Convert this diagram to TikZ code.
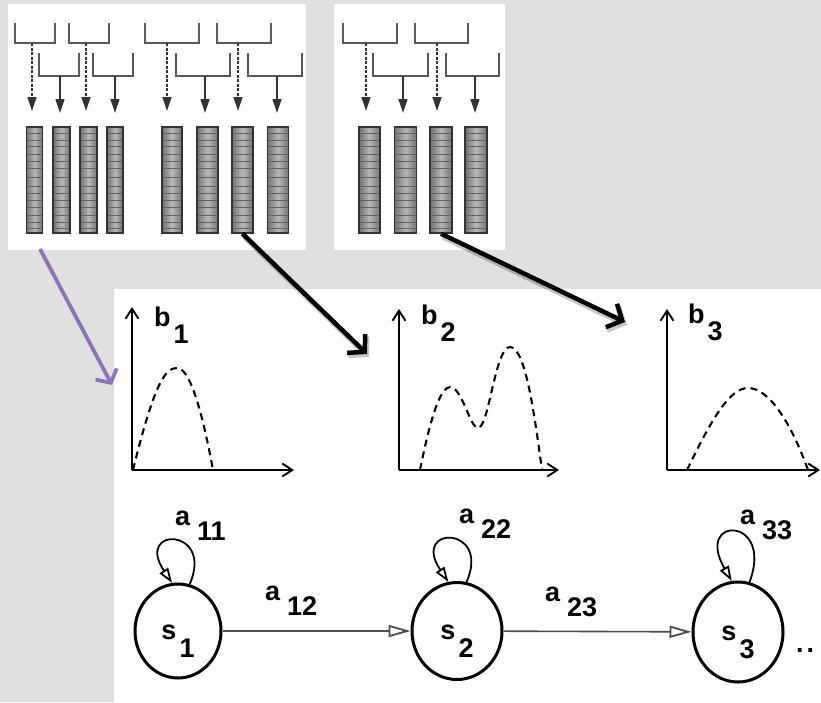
\documentclass[tikz,border=0pt]{standalone}
\usepackage{fontspec}
\setmainfont{Liberation Sans}
\usetikzlibrary{arrows.meta,shapes.geometric}
\definecolor{bggray}{RGB}{224,224,224}
\definecolor{purp}{RGB}{140,116,186}
\newcommand{\sbl}[4]{#1\kern#2\raisebox{-#3}{#4}}
\tikzset{
  panel/.style={fill=white, draw=none, inner sep=0pt},
  brk/.style={draw=black!65, line width=1.5pt},
  stemtop/.style={draw=black!80, line width=1.3pt, dash pattern=on 3pt off 1.5pt, -{Triangle[length=14pt,width=9pt]}},
  stemlow/.style={draw=black!80, line width=1.3pt, -{Triangle[length=14pt,width=9pt]}},
  featbar/.style={draw=black!80, line width=1.4pt, inner sep=0pt, minimum height=106pt,
    left color=black!55, right color=black!55, middle color=black!28,
    path picture={\foreach \t in {6,13,19,27,34,41,50,59,66,73,80,88,95,101}{
      \draw[black!62,line width=0.9pt] ([yshift=-\t*1pt]path picture bounding box.north west) -- ([yshift=-\t*1pt]path picture bounding box.north east);}}},
  bigarrow/.style={draw=black, line width=4.5pt, -{Straight Barb[length=12pt,width=26pt]}},
  bigshadow/.style={draw=black, opacity=0.22, line width=6pt, -{Straight Barb[length=12pt,width=26pt]}},
  purparrow/.style={draw=purp, line width=3.8pt, -{Straight Barb[length=10pt,width=24pt]}},
  axis/.style={draw=black, line width=1.9pt, -{Straight Barb[length=10pt,width=13pt]}},
  density/.style={draw=black, line width=2.1pt, dash pattern=on 7pt off 5pt},
  state/.style={ellipse, draw=black, line width=3pt, inner sep=0pt, text height=35pt, text depth=19pt,
    font=\bfseries\fontsize{27pt}{30pt}\selectfont},
  trans/.style={draw=black!70, line width=1.6pt, -{Triangle[open,length=22pt,width=12pt,line width=1.8pt]}},
  selfloop/.style={draw=black, line width=1.8pt, -{Triangle[open,length=15pt,width=10pt]}},
  lab/.style={font=\bfseries\fontsize{27pt}{30pt}\selectfont, inner sep=0pt, anchor=base west},
}
\begin{document}
\begin{tikzpicture}[x=1pt,y=-1pt]
\fill[bggray] (0,0) rectangle (821,702);
\useasboundingbox (0,0) rectangle (821,702);
% panels
\node[panel, minimum width=298pt, minimum height=246pt] (pA) at (157,127) {};
\node[panel, minimum width=171pt, minimum height=246pt] (pB) at (419.5,127) {};
\node[panel, minimum width=707pt, minimum height=413pt] (pC) at (467.5,495.5) {};
% brackets
\foreach \xa/\xb in {15/55,69/109,145/199,217/271,343/397,415/468}
  \draw[brk] (\xa,23) -- (\xa,43) -- (\xb,43) -- (\xb,23);
\foreach \xa/\xb in {39/79,93/133,176/230,248/302,373/428,446/499}
  \draw[brk] (\xa,53) -- (\xa,76) -- (\xb,76) -- (\xb,53);
\foreach \x in {32,86,167,238,366,437}
  \draw[stemtop] (\x,43) -- (\x,111);
\foreach \x in {60,115,205,277,403,475}
  \draw[stemlow] (\x,76) -- (\x,113);
% feature bars
\foreach \n/\x/\w in {g1b1/34.5/16,g1b2/61.5/17,g1b3/88.5/17,g1b4/115/16,
                      g2b1/172/20,g2b2/207.5/21,g2b3/242.5/21,g2b4/278/21,
                      g3b1/369.5/21,g3b2/405.5/22,g3b3/441/22,g3b4/476/22}
  \node[featbar, minimum width=\w pt] (\n) at (\x,180) {};
% observation densities
\coordinate (o1) at (132,470); \coordinate (y1) at (132,307); \coordinate (x1) at (294,470);
\coordinate (o2) at (399,470); \coordinate (y2) at (399,309); \coordinate (x2) at (559,470);
\coordinate (o3) at (667,470); \coordinate (y3) at (667,309); \coordinate (x3) at (820,470);
\draw[axis] (o1) -- (y1); \draw[axis] (o1) -- (x1);
\draw[axis] (o2) -- (y2); \draw[axis] (o2) -- (x2);
\draw[axis] (o3) -- (y3); \draw[axis] (o3) -- (x3);
\draw[density] (133,470) .. controls (155,380) and (166,368) .. (177,368) .. controls (189,368) and (201,405) .. (213,470);
\draw[density] (420,470) .. controls (430,420) and (440,387) .. (450,387) .. controls (462,387) and (470,428) .. (478,428) .. controls (489,428) and (495,347) .. (510,347) .. controls (526,347) and (535,420) .. (542,470);
\draw[density] (687,470) .. controls (712,418) and (730,388) .. (748,388) .. controls (768,388) and (790,420) .. (808,470);
\node[lab] (lb1) at (154,326) {\sbl{b}{3pt}{17pt}{1}};
\node[lab] (lb2) at (421,324) {\sbl{b}{3pt}{17pt}{2}};
\node[lab] (lb3) at (688,323) {\sbl{b}{3pt}{17pt}{3}};
% states
\node[state, minimum width=86pt, minimum height=94pt] (s1) at (178,631) {\sbl{s}{3pt}{18pt}{1}};
\node[state, minimum width=90pt, minimum height=97pt] (s2) at (457,631) {\sbl{s}{3pt}{18pt}{2}};
\node[state, minimum width=90pt, minimum height=100pt] (s3) at (738,632) {\sbl{s}{3pt}{18pt}{3}};
\draw[trans] (s1) -- (s2);
\draw[trans] (s2) -- (s3);
\draw[selfloop] (s1.76) .. controls +(25,-57) and +(-38,-57) .. (s1.97);
\draw[selfloop] (s2.79) .. controls +(25,-57) and +(-38,-57) .. (s2.100);
\draw[selfloop] (s3.77) .. controls +(25,-66) and +(-38,-66) .. (s3.97);
\node[lab] (la11) at (175,525) {\sbl{a}{7pt}{15pt}{11}};
\node[lab] (la12) at (265,600) {\sbl{a}{7pt}{15pt}{12}};
\node[lab] (la22) at (459,523) {\sbl{a}{7pt}{15pt}{22}};
\node[lab] (la23) at (545,601) {\sbl{a}{7pt}{15pt}{23}};
\node[lab] (la33) at (740,524) {\sbl{a}{7pt}{15pt}{33}};
\node[lab] (dots) at (796,652) {.\kern3pt.};
% arrows between panels
\coordinate (t1) at (367,354);
\coordinate (t2) at (625,322);
\coordinate (ps) at (40,249);
\coordinate (pe) at (112,385);
\draw[bigshadow, transform canvas={shift={(2pt,-3pt)}}] (g2b3.south) -- (t1);
\draw[bigshadow, transform canvas={shift={(2pt,-3pt)}}] (g3b3.south) -- (t2);
\draw[bigarrow] (g2b3.south) -- (t1);
\draw[bigarrow] (g3b3.south) -- (t2);
\draw[purparrow] (ps) -- (pe);
\end{tikzpicture}
\end{document}
